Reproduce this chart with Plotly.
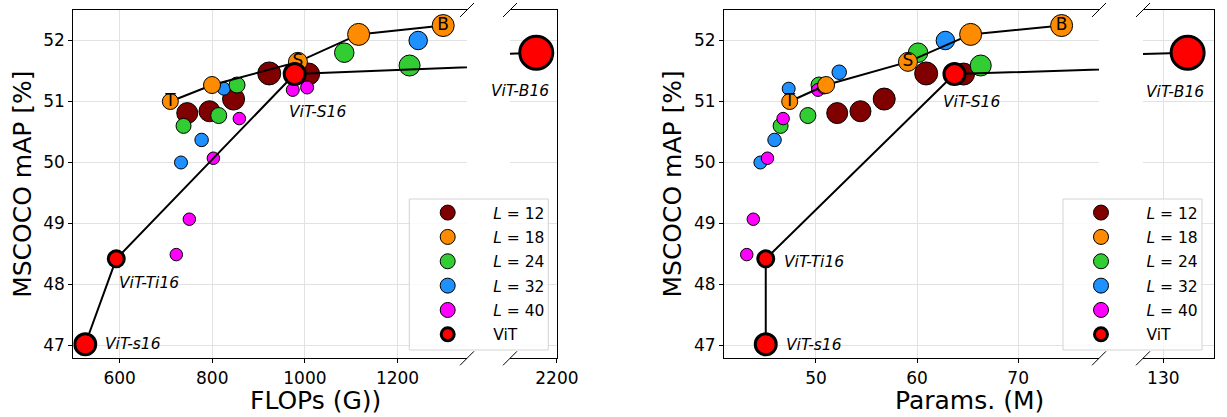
import plotly.graph_objects as go

W, H = 1227, 417

# ---------------- data ----------------
l12_flops = [746, 794, 846, 923, 1008]
l12_params = [52.1, 54.4, 56.75, 60.9, 64.6]
l12_map = [50.81, 50.84, 51.04, 51.46, 51.45]
l12_size = [21, 21, 22, 23, 22]

l18_flops = [709.5, 799.5, 985, 1116, 1298.6]
l18_params = [47.4, 51.0, 59.1, 65.3, 74.3]
l18_map = [51.00, 51.27, 51.65, 52.10, 52.245]
l18_size = [16, 17, 19, 22, 22]
l18_tag = ["T", "", "S", "", "B"]

l24_flops = [738, 814, 853.5, 1085, 1226]
l24_params = [46.5, 49.2, 50.3, 60.1, 66.3]
l24_map = [50.60, 50.77, 51.27, 51.80, 51.59]
l24_size = [15, 16, 16, 19.5, 21]

l32_flops = [732.5, 777, 825, 975, 1244.6]
l32_params = [44.5, 45.9, 47.3, 52.3, 62.8]
l32_map = [50.00, 50.37, 51.21, 51.48, 52.00]
l32_size = [13, 13.5, 13, 14.5, 18.5]

l40_flops = [722.4, 750.5, 802.4, 858.5, 973.8, 1004.8]
l40_params = [43.15, 43.8, 45.2, 46.75, 50.2, 50.8]
l40_map = [48.49, 49.07, 50.07, 50.72, 51.19, 51.23]
l40_size = [12.5, 12.5, 12.5, 12.5, 13, 13]

vit_names = ["ViT-s16", "ViT-Ti16", "ViT-S16", "ViT-B16"]
vit_flops = [525.8, 592.8, 978, 2156]
vit_params = [45.03, 45.03, 63.7, 132.4]
vit_map = [47.02, 48.42, 51.45, 51.80]
vit_size = [21, 16, 21, 33]

legend_labels = ["<i>L</i> = 12", "<i>L</i> = 18", "<i>L</i> = 24",
                 "<i>L</i> = 32", "<i>L</i> = 40", "ViT"]

flops_ticks = [600, 800, 1000, 1200]
flops_ticks_b = [2200]
params_ticks = [50, 60, 70]
params_ticks_b = [130]
map_ticks = [47, 48, 49, 50, 51, 52]

# ---------------- styles ----------------
C12, C18, C24, C32, C40, CVIT = "#800000", "#ff8c00", "#32cd32", "#1e90ff", "#ff00ff", "#ff0000"
FONT = "DejaVu Sans"

fig = go.Figure()

def pix_x(px):
    return px / W

def pix_y(py):
    return 1 - py / H

# panel geometry (pixels)
LM = (73.3, 467.0)
LS = (510.0, 557.0)
RM = (724.0, 1099.0)
RS = (1143.0, 1214.0)
TOP, BOT = 10.0, 358.3
ydom = [pix_y(BOT), pix_y(TOP)]

panels = [
    ("x", "y", [l12_flops, l24_flops, l32_flops, l40_flops], l18_flops, vit_flops, "legend"),
    ("x3", "y3", [l12_params, l24_params, l32_params, l40_params], l18_params, vit_params, "legend2"),
]
small_axes = [("x2", "y2", vit_flops), ("x4", "y4", vit_params)]

groups_y = [l12_map, l24_map, l32_map, l40_map]
groups_s = [l12_size, l24_size, l32_size, l40_size]
groups_c = [C12, C24, C32, C40]
order = [0, 2, 1, 3]  # draw: L12, L32, L24, L40

for xa, ya, gx, ox, vx, leg in panels:
    for i in order:
        fig.add_trace(go.Scatter(
            x=gx[i], y=groups_y[i], xaxis=xa, yaxis=ya, mode="markers",
            marker=dict(color=groups_c[i], size=groups_s[i], opacity=1,
                        line=dict(color="black", width=1)),
            showlegend=False, hoverinfo="skip"))
    fig.add_trace(go.Scatter(
        x=ox, y=l18_map, xaxis=xa, yaxis=ya, mode="lines+markers+text",
        line=dict(color="black", width=2),
        marker=dict(color=C18, size=l18_size, opacity=1, line=dict(color="black", width=1)),
        text=l18_tag, textposition="middle center",
        textfont=dict(family=FONT, size=17, color="black"),
        showlegend=False, hoverinfo="skip"))
    fig.add_trace(go.Scatter(
        x=vx, y=vit_map, xaxis=xa, yaxis=ya, mode="lines+markers",
        line=dict(color="black", width=2),
        marker=dict(color=CVIT, size=vit_size, opacity=1, line=dict(color="black", width=3)),
        showlegend=False, hoverinfo="skip"))
    # legend entries
    for g, (lab, col) in enumerate(zip(legend_labels[:5], [C12, C18, C24, C32, C40])):
        fig.add_trace(go.Scatter(
            x=[None], y=[None], xaxis=xa, yaxis=ya, mode="markers",
            marker=dict(color=col, size=15, line=dict(color="black", width=1)),
            name=lab, legend=leg, legendgroup=leg + str(g), showlegend=True))
    fig.add_trace(go.Scatter(
        x=[None], y=[None], xaxis=xa, yaxis=ya, mode="markers",
        marker=dict(color=CVIT, size=13, line=dict(color="black", width=3)),
        name=legend_labels[5], legend=leg, legendgroup=leg + "5", showlegend=True))

for xa, ya, vx in small_axes:
    fig.add_trace(go.Scatter(
        x=vx, y=vit_map, xaxis=xa, yaxis=ya, mode="lines+markers",
        line=dict(color="black", width=2),
        marker=dict(color=CVIT, size=vit_size, opacity=1, line=dict(color="black", width=3)),
        showlegend=False, hoverinfo="skip"))

ax_common = dict(showgrid=True, gridcolor="#e2e2e2", gridwidth=1.3, showline=True,
                 linecolor="black", linewidth=1, ticklen=4,
                 tickwidth=1, tickcolor="black", zeroline=False,
                 tickfont=dict(family=FONT, size=17, color="black"))

yr = [46.79, 52.5]
leg_common = dict(xanchor="left", yanchor="top", bgcolor="rgba(0,0,0,0)", borderwidth=0,
                  font=dict(family=FONT, size=15.5, color="black"), itemwidth=81,
                  traceorder="grouped", tracegroupgap=1.2)
fig.update_layout(
    width=W, height=H, margin=dict(l=0, r=0, t=0, b=0, autoexpand=False),
    paper_bgcolor="white", plot_bgcolor="white",
    font=dict(family=FONT, color="black"),
    xaxis=dict(domain=[pix_x(LM[0]), pix_x(LM[1])], range=[500, 1350], anchor="y",
               tickvals=flops_ticks, mirror=True, ticks="outside", **ax_common),
    yaxis=dict(domain=ydom, range=yr, anchor="x", tickvals=map_ticks, ticks="outside", **ax_common),
    xaxis2=dict(domain=[pix_x(LS[0]), pix_x(LS[1])], range=[2100, 2200.2], anchor="y2",
                tickvals=flops_ticks_b, mirror=True, ticks="outside", **ax_common),
    yaxis2=dict(domain=ydom, range=yr, anchor="x2", side="right", tickvals=map_ticks,
                showticklabels=False, ticks="", **ax_common),
    xaxis3=dict(domain=[pix_x(RM[0]), pix_x(RM[1])], range=[40.9, 78], anchor="y3",
                tickvals=params_ticks, mirror=True, ticks="outside", **ax_common),
    yaxis3=dict(domain=ydom, range=yr, anchor="x3", tickvals=map_ticks, ticks="outside", **ax_common),
    xaxis4=dict(domain=[pix_x(RS[0]), pix_x(RS[1])], range=[128, 135], anchor="y4",
                tickvals=params_ticks_b, mirror=True, ticks="outside", **ax_common),
    yaxis4=dict(domain=ydom, range=yr, anchor="x4", side="right", tickvals=map_ticks,
                showticklabels=False, ticks="", **ax_common),
    legend=dict(x=pix_x(402.2), y=pix_y(196), **leg_common),
    legend2=dict(x=pix_x(1055.5), y=pix_y(196), **leg_common),
)

# legend frames
for x0 in [409.3, 1063.0]:
    fig.add_shape(type="rect", xref="paper", yref="paper", layer="above",
                  x0=pix_x(x0), x1=pix_x(x0 + 139), y0=pix_y(350), y1=pix_y(199),
                  fillcolor="rgba(255,255,255,0.82)", line=dict(color="#d3d3d3", width=1))

# ViT labels (offsets in pixels from each point)
lab_font = dict(family=FONT, size=15.5, color="black")
left_offsets = [("left", 18, 0), ("left", 1, -24), ("left", -8, -38), ("center", -16, -38)]
right_offsets = [("left", 18, -1), ("left", 16, -3), ("left", -13, -28), ("center", -13, -39)]
for vx, offs, main_ax, small_ax in [(vit_flops, left_offsets, ("x", "y"), ("x2", "y2")),
                                     (vit_params, right_offsets, ("x3", "y3"), ("x4", "y4"))]:
    for k, name in enumerate(vit_names):
        axs = small_ax if k == 3 else main_ax
        xa, dx, dy = offs[k]
        fig.add_annotation(x=vx[k], y=vit_map[k], xref=axs[0], yref=axs[1],
                           text="<i>" + name + "</i>", showarrow=False,
                           xanchor=xa, yanchor="middle", xshift=dx, yshift=dy,
                           font=lab_font)

# axis titles
title_font = dict(family=FONT, size=25, color="black")
fig.add_annotation(x=pix_x((LM[0] + LS[1]) / 2), y=pix_y(400), xref="paper", yref="paper",
                   text="FLOPs (G))", showarrow=False, font=title_font,
                   xanchor="center", yanchor="middle")
fig.add_annotation(x=pix_x((RM[0] + RS[1]) / 2), y=pix_y(400), xref="paper", yref="paper",
                   text="Params. (M)", showarrow=False, font=title_font,
                   xanchor="center", yanchor="middle")
for xp in [21.7, 672.4]:
    fig.add_annotation(x=pix_x(xp), y=pix_y((TOP + BOT) / 2), xref="paper", yref="paper",
                       text="MSCOCO mAP [%]", showarrow=False, font=title_font,
                       textangle=-90, xanchor="center", yanchor="middle")

# broken-axis marks
for px in [LM[1], LS[0], RM[1], RS[0]]:
    for py in [TOP, BOT]:
        fig.add_shape(type="line", xref="paper", yref="paper",
                      x0=pix_x(px - 7), y0=pix_y(py + 7), x1=pix_x(px + 7), y1=pix_y(py - 7),
                      line=dict(color="black", width=1))

fig.write_html("out.html", config={"displayModeBar": False},
               post_script="document.body.style.margin='0px';document.body.style.overflow='hidden';")
